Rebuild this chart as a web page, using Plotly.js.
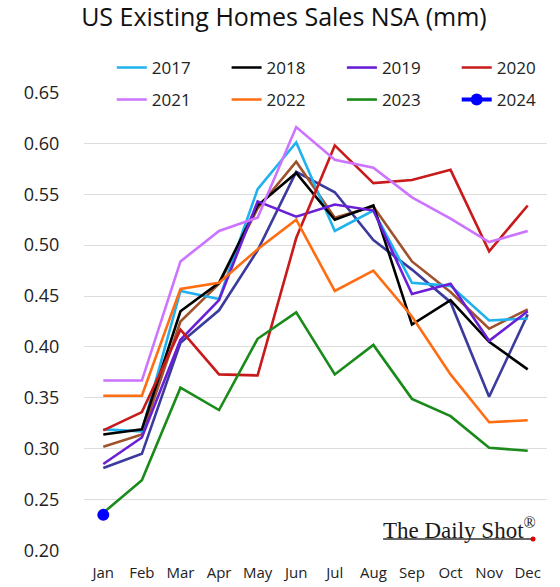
<!DOCTYPE html>
<html><head><meta charset="utf-8">
<script src="https://cdn.plot.ly/plotly-3.0.1.min.js"></script>
<style>body{margin:0;background:#fff}#chart{width:560px;height:587px}</style>
</head><body><div id="chart"></div>
<script>
const months = ["Jan","Feb","Mar","Apr","May","Jun","Jul","Aug","Sep","Oct","Nov","Dec"];
const y2015 = [0.281,0.295,0.404,0.436,0.495,0.572,0.552,0.505,0.476,0.444,0.351,0.432];
const y2016 = [0.302,0.314,0.425,0.462,0.536,0.582,0.527,0.538,0.484,0.454,0.418,0.437];
const y2017 = [0.319,0.317,0.455,0.447,0.555,0.601,0.514,0.534,0.463,0.460,0.426,0.428];
const y2018 = [0.314,0.319,0.435,0.463,0.539,0.571,0.525,0.539,0.422,0.446,0.405,0.378];
const y2019 = [0.285,0.311,0.407,0.446,0.543,0.528,0.540,0.534,0.452,0.462,0.406,0.435];
const y2020 = [0.318,0.336,0.417,0.373,0.372,0.507,0.598,0.561,0.564,0.574,0.494,0.539];
const y2021 = [0.367,0.367,0.484,0.514,0.527,0.616,0.584,0.576,0.547,0.526,0.503,0.514];
const y2022 = [0.352,0.352,0.457,0.463,0.496,0.525,0.455,0.475,0.430,0.373,0.326,0.328];
const y2023 = [0.237,0.269,0.360,0.338,0.408,0.434,0.373,0.402,0.349,0.332,0.301,0.298];
const y2024 = [0.235];

function tr(name, y, color, opts) {
  return Object.assign({type:'scatter', mode:'lines', x: months.slice(0, y.length), y: y, name: name,
    line:{color: color, width: 2.6}, hoverinfo:'skip'}, opts || {});
}
const data = [
  tr('2015', y2015, '#3b3b9e', {showlegend:false}),
  tr('2016', y2016, '#a0522d', {showlegend:false}),
  tr('2017', y2017, '#1fb2ee', {legend:'legend'}),
  tr('2018', y2018, '#000000', {legend:'legend2'}),
  tr('2019', y2019, '#6a1fd6', {legend:'legend3'}),
  tr('2020', y2020, '#c81a1a', {legend:'legend4'}),
  tr('2021', y2021, '#cc73ff', {legend:'legend5'}),
  tr('2022', y2022, '#ff6d12', {legend:'legend6'}),
  tr('2023', y2023, '#1a8a1a', {legend:'legend7'}),
  tr('2024', y2024, '#0000ff', {legend:'legend8', mode:'lines+markers', marker:{size:12, color:'#0000ff'}, line:{color:'#0000ff', width:4}})
];
const FF = '"Open Sans", Lato, sans-serif';
const legFont = {family:FF, size:17, color:'#222'};
function leg(x, y) {
  return {orientation:'v', x:x, xanchor:'left', y:y, yanchor:'middle', bgcolor:'rgba(0,0,0,0)', borderwidth:0,
    font:legFont, itemclick:false, itemdoubleclick:false};
}
const colX = [0.060, 0.308, 0.557, 0.805];
const rowY = [1.0523, 0.9826];
const layout = {
  width:560, height:587,
  margin:{l:84, r:13, t:92, b:36, autoexpand:false},
  paper_bgcolor:'#fff', plot_bgcolor:'#fff',
  font:{family:FF, color:'#222'},
  title:{text:'US Existing Homes Sales NSA (mm)', xref:'container', x:0.507, xanchor:'center', yref:'container', y:0.985, yanchor:'top',
    font:{family:FF, size:25, color:'#111'}},
  xaxis:{type:'category', range:[-0.5, 11.5], autorange:false, automargin:false, showgrid:false, zeroline:false, showline:false,
    ticks:'outside', ticklen:8, tickcolor:'rgba(0,0,0,0)', tickfont:{size:15, color:'#222'}, fixedrange:true},
  yaxis:{range:[0.1995,0.6505], automargin:false, dtick:0.05, tick0:0.2, tickformat:'.2f', showgrid:true, gridcolor:'#dcdcdc', gridwidth:1,
    zeroline:false, showline:false, ticks:'outside', ticklen:20, tickcolor:'rgba(0,0,0,0)', tickfont:{size:18, color:'#222'}, fixedrange:true},
  legend: leg(colX[0], rowY[0]), legend2: leg(colX[1], rowY[0]), legend3: leg(colX[2], rowY[0]), legend4: leg(colX[3], rowY[0]),
  legend5: leg(colX[0], rowY[1]), legend6: leg(colX[1], rowY[1]), legend7: leg(colX[2], rowY[1]), legend8: leg(colX[3], rowY[1]),
  showlegend:true,
  annotations:[{text:'The Daily Shot<sup>®</sup>', xref:'paper', yref:'paper', x:0.980, xanchor:'right', y:0.050, yanchor:'middle', showarrow:false,
    font:{family:'"Liberation Serif", "DejaVu Serif", serif', size:23, color:'#1a1a1a'}}],
  shapes:[
    {type:'line', xref:'paper', yref:'paper', x0:0.646, x1:0.970, y0:0.026, y1:0.026, line:{color:'#333', width:1.5}},
    {type:'circle', xref:'paper', yref:'paper', x0:0.9644, x1:0.9752, y0:0.0207, y1:0.0316, fillcolor:'#e00000', line:{width:0}}
  ]
};
Plotly.newPlot('chart', data, layout, {displayModeBar:false, staticPlot:true});
</script></body></html>
